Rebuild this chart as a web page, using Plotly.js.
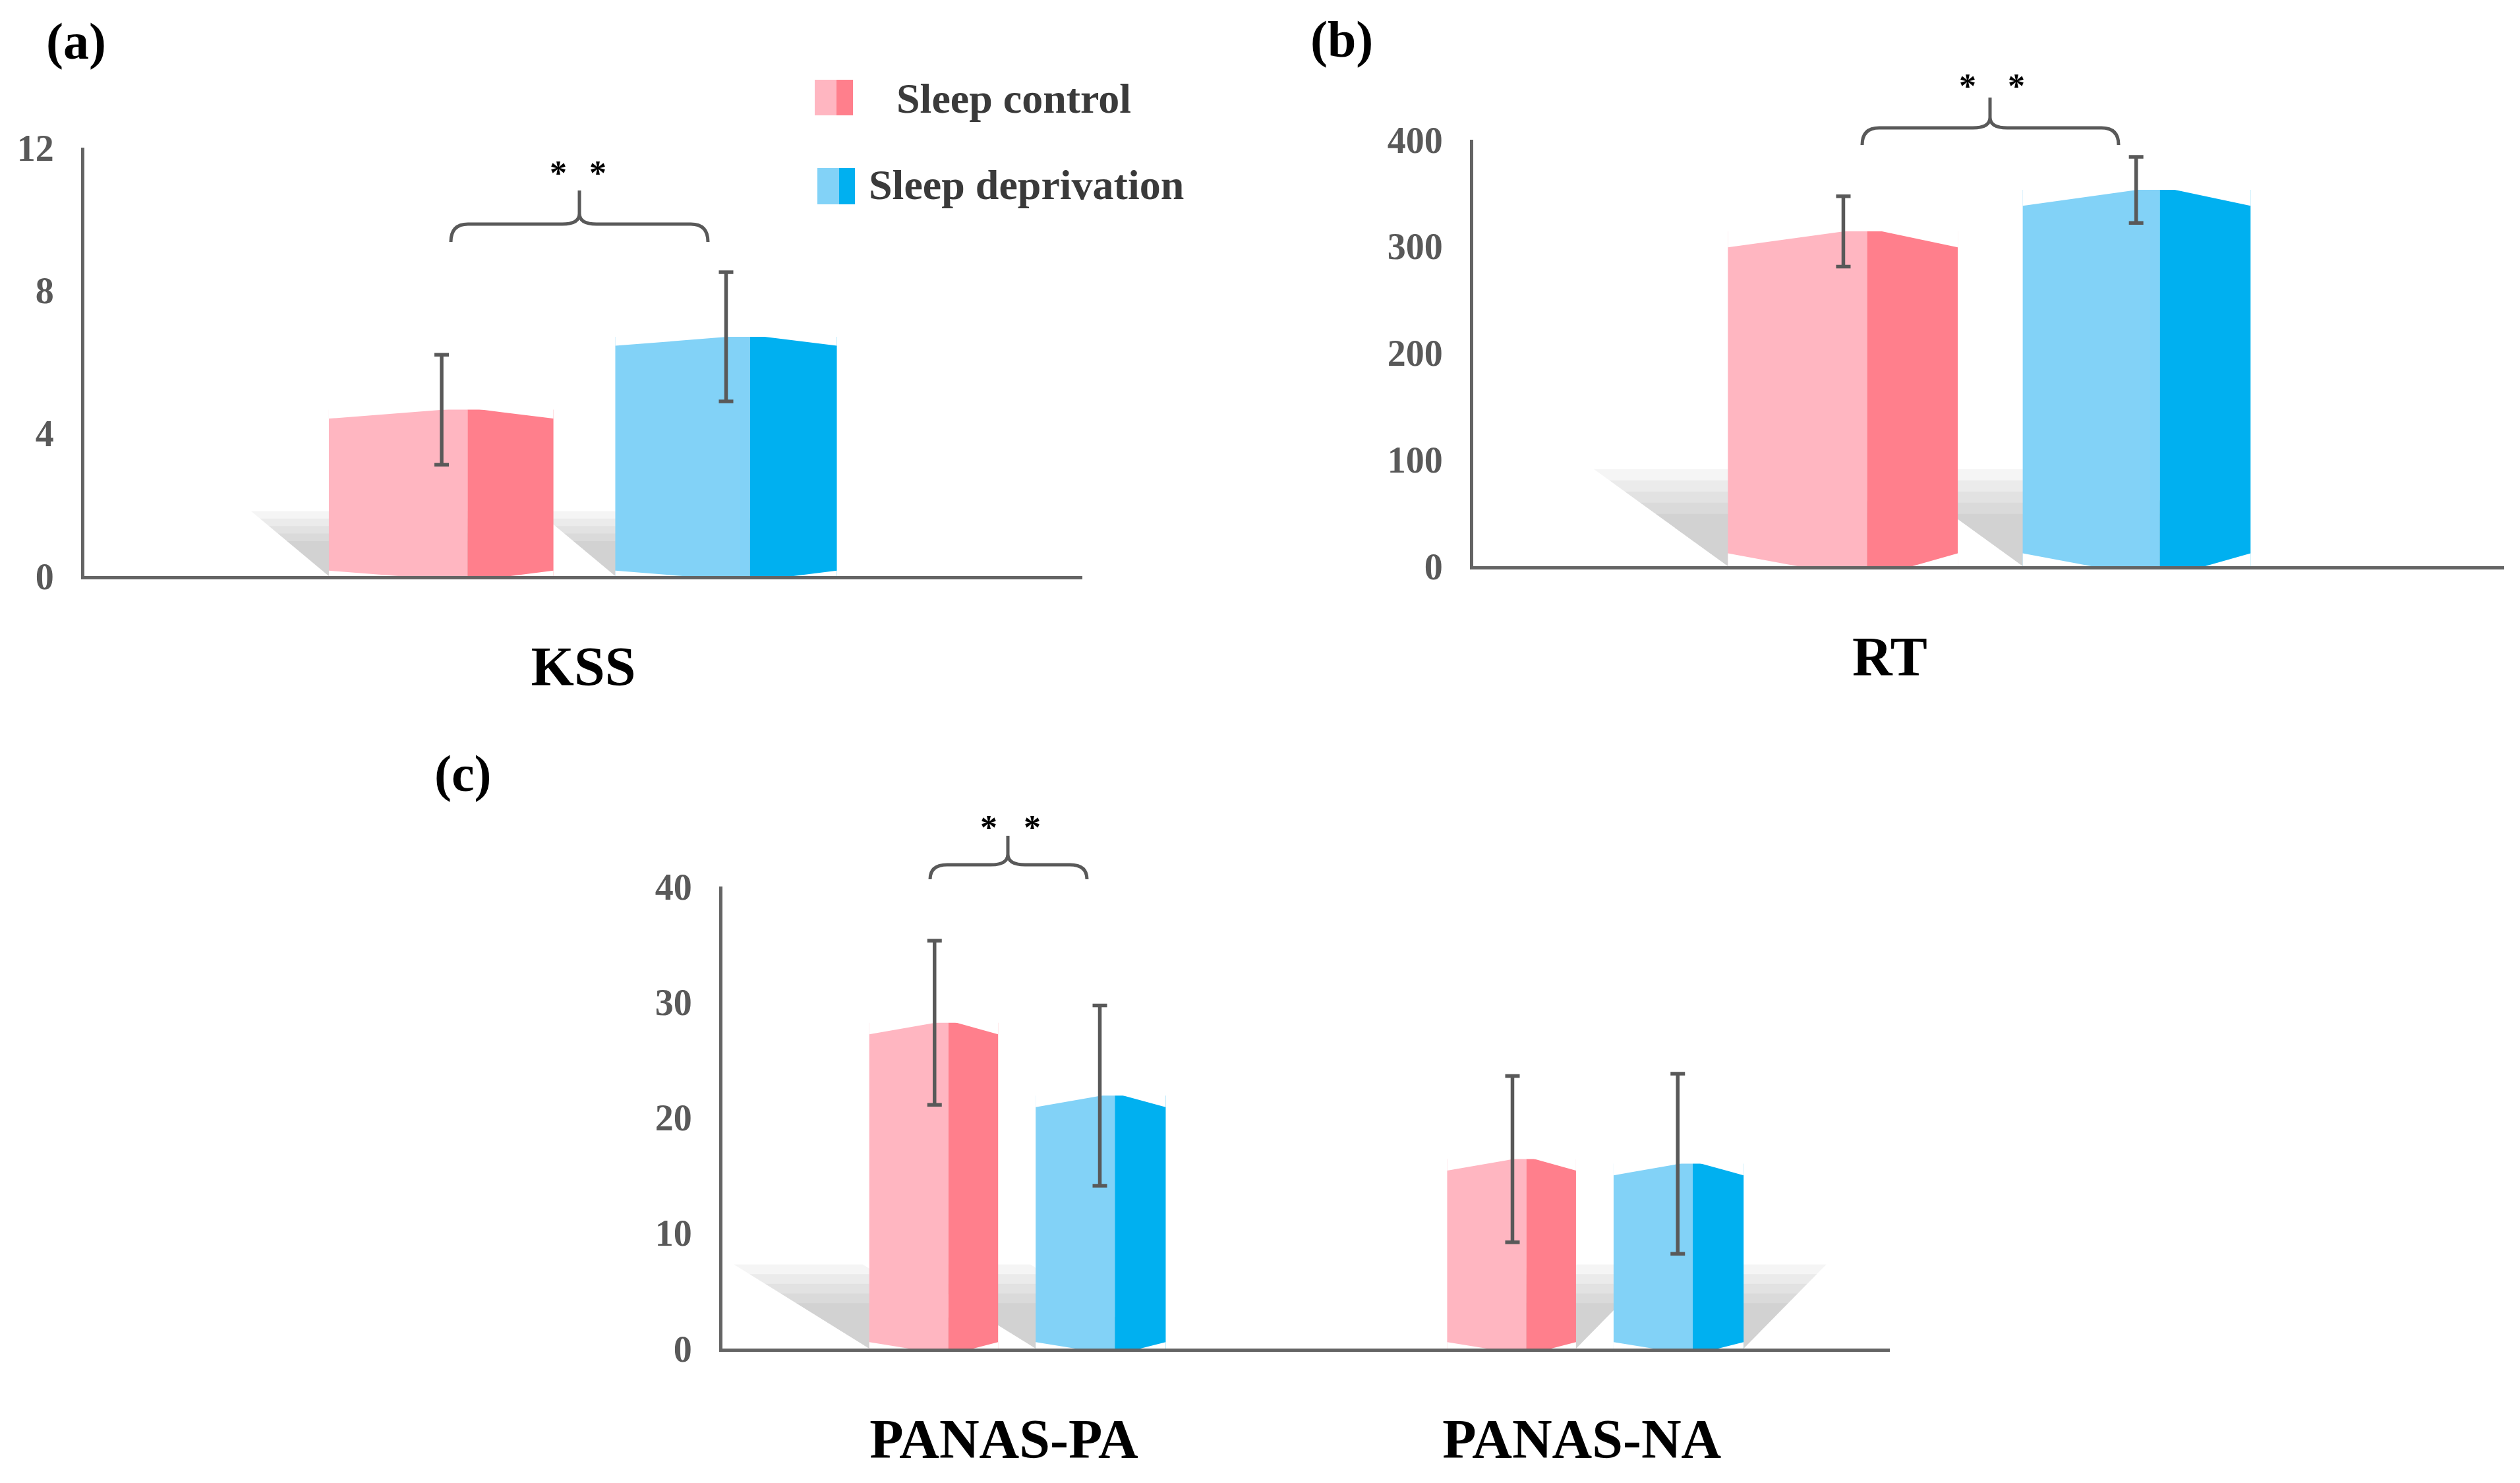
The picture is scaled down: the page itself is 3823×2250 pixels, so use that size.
<!DOCTYPE html>
<html>
<head>
<meta charset="utf-8">
<script src="https://cdn.plot.ly/plotly-3.0.1.min.js"></script>
<style>
html, body { margin: 0; padding: 0; background: #fff; }
#chart { width: 3823px; height: 2250px; }
</style>
</head>
<body>
<div id="chart"></div>
<script>
// values (mean and sd)
var kssCats = ['KSS'];
var kssControl = [4.66];
var kssControlSd = [1.54];
var kssDeprived = [6.70];
var kssDeprivedSd = [1.81];

var rtCats = ['RT'];
var rtControl = [314];
var rtControlSd = [33];
var rtDeprived = [353];
var rtDeprivedSd = [31];

var panasCats = ['PANAS-PA', 'PANAS-NA'];
var panasControl = [28.2, 16.4];
var panasControlSd = [7.1, 7.2];
var panasDeprived = [21.9, 16.0];
var panasDeprivedSd = [7.8, 7.8];

var seriesNames = ['Sleep control', 'Sleep deprivation'];

var W = 3823, H = 2250;
function px(x) { return x / W; }
function py(y) { return 1 - y / H; }

var serif = 'Liberation Serif, Times New Roman, serif';
var pinkFront = '#FFB6C1', pinkSide = '#FF7F8C';
var blueFront = '#82D2F7', blueSide = '#00B0F0';
var inkGrey = '#595959', axisGrey = '#646464';

// layout of each panel; cf/df = [left, fold, right] of the control / deprived bar
var panels = [
    {cats: kssCats, ctrl: kssControl, ctrlSd: kssControlSd, dep: kssDeprived, depSd: kssDeprivedSd,
     n: '', xdom: [128, 1642], ydom: [874, 224], xrange: [-0.5, 0.5], ymax: 12, dtick: 4,
     cf: [-0.255, -0.116, -0.030], df: [0.032, 0.167, 0.254], cErr: -0.142, dErr: 0.143,
     top: 0.25, bot: 0.15, shX: [0.06], shY: 1.4},
    {cats: rtCats, ctrl: rtControl, ctrlSd: rtControlSd, dep: rtDeprived, depSd: rtDeprivedSd,
     n: '2', xdom: [2235, 3799], ydom: [859, 212], xrange: [-0.404, 0.596], ymax: 400, dtick: 100,
     cf: [-0.157, -0.022, 0.066], df: [0.129, 0.262, 0.350], cErr: -0.045, dErr: 0.239,
     top: 15, bot: 12, shX: [0.10], shY: 70},
    {cats: panasCats, ctrl: panasControl, ctrlSd: panasControlSd, dep: panasDeprived, depSd: panasDeprivedSd,
     n: '3', xdom: [1096, 2867], ydom: [2046, 1345], xrange: [-0.487, 1.533], ymax: 40, dtick: 10,
     cf: [-0.233, -0.096, -0.010], df: [0.055, 0.192, 0.280], cErr: -0.120, dErr: 0.166,
     top: 1.0, bot: 0.55, shX: [0.18, -0.11], shY: 5.6}
];

var data = [];
var layout = {
    width: W, height: H,
    margin: {l: 0, r: 0, t: 0, b: 0},
    paper_bgcolor: '#fff', plot_bgcolor: 'rgba(0,0,0,0)',
    barmode: 'overlay', showlegend: false,
    font: {family: serif},
    shapes: [], annotations: []
};

panels.forEach(function (p) {
    var xa = 'x' + p.n, ya = 'y' + p.n;
    var idx = p.cats.map(function (c, i) { return i; });

    // soft shadows behind the bars, several faint layers to fake a blur
    [1.3, 1.15, 1.0, 0.85, 0.7].forEach(function (k) {
        idx.forEach(function (i) {
            var dx = (p.shX[i] !== undefined ? p.shX[i] : p.shX[0]) * k;
            var h = p.shY * k;
            [p.cf, p.df].forEach(function (f) {
                var a = i + f[0], b = i + f[2];
                layout.shapes.push({type: 'path', xref: xa, yref: ya, layer: 'below',
                    path: 'M' + a + ',0 L' + (a - dx) + ',' + h + ' L' + (b - dx) + ',' + h + ' L' + b + ',0 Z',
                    fillcolor: 'rgba(120,120,120,0.075)', line: {width: 0}});
            });
        });
    });

    // bar faces
    var faces = [
        [p.ctrl, p.cf[0], p.cf[1], pinkFront, seriesNames[0]],
        [p.ctrl, p.cf[1], p.cf[2], pinkSide, seriesNames[0]],
        [p.dep, p.df[0], p.df[1], blueFront, seriesNames[1]],
        [p.dep, p.df[1], p.df[2], blueSide, seriesNames[1]]
    ];
    faces.forEach(function (f) {
        data.push({type: 'bar', name: f[4], x: idx, y: f[0], offset: f[1], width: f[2] - f[1],
            xaxis: xa, yaxis: ya, marker: {color: f[3], line: {width: 0}},
            hoverinfo: 'skip', showlegend: false});
    });

    // white wedges giving the bevelled top and bottom edges
    var mx = [], my = [];
    idx.forEach(function (i) {
        [[p.ctrl[i], p.cf], [p.dep[i], p.df]].forEach(function (b) {
            var v = b[0], f = b[1];
            mx.push(i + f[0], i + f[0], i + f[1], i + f[0], null);
            my.push(v - p.top, v + p.top * 0.2, v + p.top * 0.2, v - p.top, null);
            mx.push(i + f[1], i + f[2], i + f[2], i + f[1], null);
            my.push(v + p.top * 0.2, v + p.top * 0.2, v - p.top, v + p.top * 0.2, null);
            mx.push(i + f[0], i + f[0], i + f[1], i + f[0], null);
            my.push(p.bot, -p.bot, -p.bot, p.bot, null);
            mx.push(i + f[1], i + f[2], i + f[2], i + f[1], null);
            my.push(-p.bot, -p.bot, p.bot, -p.bot, null);
        });
    });
    data.push({type: 'scatter', mode: 'lines', x: mx, y: my, xaxis: xa, yaxis: ya,
        fill: 'toself', fillcolor: '#ffffff', line: {width: 0}, hoverinfo: 'skip', showlegend: false});

    // error bars
    [[p.ctrl, p.ctrlSd, p.cErr], [p.dep, p.depSd, p.dErr]].forEach(function (s) {
        data.push({type: 'scatter', mode: 'markers', x: idx.map(function (i) { return i + s[2]; }), y: s[0],
            xaxis: xa, yaxis: ya, marker: {size: 1, opacity: 0},
            error_y: {type: 'data', array: s[1], visible: true, color: inkGrey, thickness: 5.5, width: 11},
            hoverinfo: 'skip', showlegend: false});
    });

    layout['xaxis' + p.n] = {
        domain: [px(p.xdom[0]), px(p.xdom[1])], range: p.xrange, anchor: ya,
        showline: true, linecolor: axisGrey, linewidth: 5, showgrid: false, zeroline: false,
        tickvals: idx, ticktext: p.cats, ticks: '', ticklabelstandoff: 60,
        tickfont: {family: serif, size: 84, color: '#000', weight: 700}, fixedrange: true
    };
    layout['yaxis' + p.n] = {
        domain: [py(p.ydom[0]), py(p.ydom[1])], range: [0, p.ymax], anchor: xa,
        tick0: 0, dtick: p.dtick, showline: true, linecolor: axisGrey, linewidth: 5,
        showgrid: false, zeroline: false, ticks: '', ticklabelstandoff: 30,
        tickfont: {family: serif, size: 56, color: inkGrey, weight: 700}, fixedrange: true
    };
});

// significance braces and stars
function bracePath(x0, xm, x1, yb, yh, yt) {
    var r = 26, c = 16;
    function P(x, y) { return px(x) + ',' + py(y); }
    return 'M' + P(x0, yb) + ' Q' + P(x0, yh) + ' ' + P(x0 + r, yh) +
        ' L' + P(xm - r, yh) + ' Q' + P(xm, yh) + ' ' + P(xm, yh - c) + ' L' + P(xm, yt) +
        ' L' + P(xm, yh - c) + ' Q' + P(xm, yh) + ' ' + P(xm + r, yh) +
        ' L' + P(x1 - r, yh) + ' Q' + P(x1, yh) + ' ' + P(x1, yb);
}
var braces = [
    [684, 879, 1074, 367, 340, 289, [847, 907], 254],
    [2825, 3019, 3214, 220, 194, 148, [2985, 3059], 123],
    [1411, 1529, 1649, 1334, 1312, 1268, [1500, 1566], 1247]
];
braces.forEach(function (b) {
    layout.shapes.push({type: 'path', xref: 'paper', yref: 'paper',
        path: bracePath(b[0], b[1], b[2], b[3], b[4], b[5]),
        line: {color: inkGrey, width: 5}});
    b[6].forEach(function (sx) {
        layout.annotations.push({xref: 'paper', yref: 'paper', x: px(sx), y: py(b[7] + 8),
            text: '*', showarrow: false, xanchor: 'center', yanchor: 'middle',
            font: {family: serif, size: 52, color: '#000', weight: 700}});
    });
});

// panel letters
[['(a)', 115, 62], ['(b)', 2035, 60], ['(c)', 702, 1173]].forEach(function (l) {
    layout.annotations.push({xref: 'paper', yref: 'paper', x: px(l[1]), y: py(l[2]),
        text: l[0], showarrow: false, xanchor: 'center', yanchor: 'middle',
        font: {family: serif, size: 78, color: '#000', weight: 700}});
});

// legend
var legendRows = [
    [seriesNames[0], pinkFront, pinkSide, 1236, 1269, 1294, 121, 175, 1358, 150],
    [seriesNames[1], blueFront, blueSide, 1240, 1273, 1297, 255, 310, 1316, 281]
];
legendRows.forEach(function (r) {
    layout.shapes.push({type: 'rect', xref: 'paper', yref: 'paper', x0: px(r[3]), x1: px(r[4]),
        y0: py(r[7]), y1: py(r[6]), fillcolor: r[1], line: {width: 0}});
    layout.shapes.push({type: 'rect', xref: 'paper', yref: 'paper', x0: px(r[4]), x1: px(r[5]),
        y0: py(r[7]), y1: py(r[6]), fillcolor: r[2], line: {width: 0}});
    layout.annotations.push({xref: 'paper', yref: 'paper', x: px(r[8]), y: py(r[9]),
        text: r[0], showarrow: false, xanchor: 'left', yanchor: 'middle',
        font: {family: serif, size: 64, color: '#3a3a3a', weight: 700}});
});

Plotly.newPlot('chart', data, layout, {displayModeBar: false, staticPlot: true});
</script>
</body>
</html>
